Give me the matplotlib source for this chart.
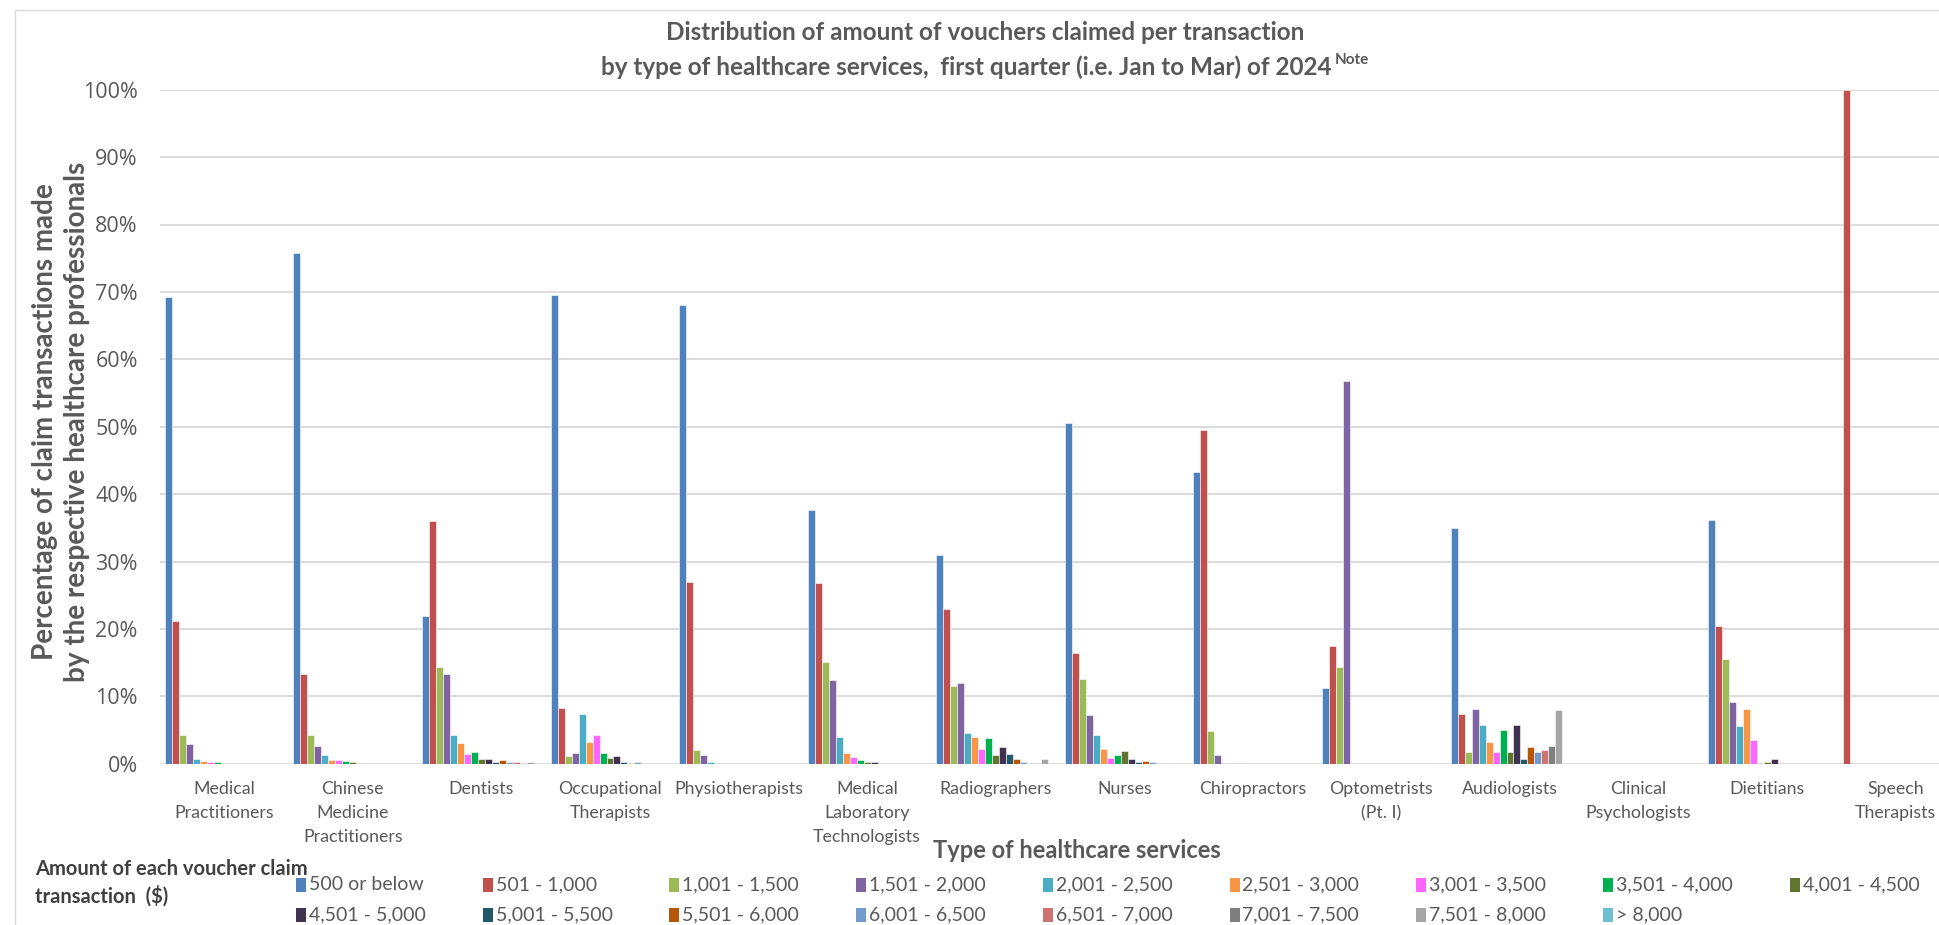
import matplotlib
matplotlib.use("Agg")
import matplotlib.pyplot as plt
from matplotlib.patches import Rectangle
from matplotlib.ticker import PercentFormatter
import numpy as np

# ---------------------------------------------------------------- data
services = [
    "Medical\nPractitioners", "Chinese\nMedicine\nPractitioners", "Dentists",
    "Occupational\nTherapists", "Physiotherapists",
    "Medical\nLaboratory\nTechnologists", "Radiographers", "Nurses",
    "Chiropractors", "Optometrists\n(Pt. I)", "Audiologists",
    "Clinical\nPsychologists", "Dietitians", "Speech\nTherapists",
]

amount_bands = [
    "500 or below", "501 - 1,000", "1,001 - 1,500", "1,501 - 2,000",
    "2,001 - 2,500", "2,501 - 3,000", "3,001 - 3,500", "3,501 - 4,000",
    "4,001 - 4,500", "4,501 - 5,000", "5,001 - 5,500", "5,501 - 6,000",
    "6,001 - 6,500", "6,501 - 7,000", "7,001 - 7,500", "7,501 - 8,000",
    "> 8,000",
]

# percentage of claim transactions, one list per service (order of amount_bands)
medical_practitioners = [69.2, 21.2, 4.3, 2.9, 0.7, 0.4, 0.2, 0.2, 0, 0, 0, 0, 0, 0, 0, 0, 0]
chinese_medicine      = [75.8, 13.3, 4.2, 2.6, 1.3, 0.6, 0.5, 0.45, 0.2, 0, 0, 0, 0, 0, 0, 0, 0]
dentists              = [21.9, 36.0, 14.3, 13.3, 4.3, 3.0, 1.5, 1.7, 0.7, 0.7, 0.3, 0.5, 0.2, 0.2, 0, 0.2, 0]
occupational          = [69.6, 8.3, 1.1, 1.6, 7.3, 3.2, 4.2, 1.6, 0.85, 1.2, 0.2, 0, 0.2, 0, 0, 0, 0]
physiotherapists      = [68.0, 27.0, 2.1, 1.25, 0.3, 0, 0, 0, 0, 0, 0, 0, 0, 0, 0, 0, 0]
lab_technologists     = [37.6, 26.8, 15.1, 12.4, 4.0, 1.6, 0.95, 0.5, 0.2, 0.25, 0, 0, 0, 0, 0, 0, 0]
radiographers         = [31.0, 22.9, 11.6, 11.9, 4.5, 3.9, 2.2, 3.8, 1.3, 2.5, 1.4, 0.7, 0.2, 0.15, 0.15, 0.65, 0]
nurses                = [50.5, 16.4, 12.6, 7.2, 4.2, 2.2, 0.85, 1.3, 1.85, 0.7, 0.2, 0.4, 0.2, 0, 0, 0.15, 0]
chiropractors         = [43.3, 49.5, 4.85, 1.3, 0, 0, 0.1, 0, 0, 0, 0, 0, 0, 0, 0, 0, 0]
optometrists          = [11.3, 17.4, 14.3, 56.8, 0, 0, 0, 0, 0, 0, 0, 0, 0, 0, 0, 0, 0]
audiologists          = [35.0, 7.4, 1.8, 8.1, 5.8, 3.2, 1.8, 5.0, 1.8, 5.8, 0.65, 2.5, 1.8, 2.0, 2.7, 7.9, 0]
clinical_psychologists = [0] * 17
dietitians            = [36.1, 20.5, 15.5, 9.15, 5.6, 8.1, 3.5, 0, 0.2, 0.65, 0, 0, 0, 0, 0, 0, 0]
speech_therapists     = [0, 100.0, 0, 0, 0, 0, 0, 0, 0, 0, 0, 0, 0, 0, 0, 0, 0]

band_colors = [
    "#4F81BD", "#C0504D", "#9BBB59", "#8064A2", "#4BACC6", "#F79646",
    "#FF66FF", "#00B050", "#5F7530", "#403152", "#215968", "#B65708",
    "#729ACA", "#CD7371", "#7F7F7F", "#A5A5A5", "#6FBFD2",
]

table = np.array([
    medical_practitioners, chinese_medicine, dentists, occupational,
    physiotherapists, lab_technologists, radiographers, nurses,
    chiropractors, optometrists, audiologists, clinical_psychologists,
    dietitians, speech_therapists,
]) / 100.0

# ---------------------------------------------------------------- styling
TEXT = "#595959"
GRID = "#D9D9D9"
W, H = 1939, 925
LABEL_FONT = ["Lato", "DejaVu Sans"]
TICK_FONT = ["Open Sans", "DejaVu Sans"]

fig = plt.figure(figsize=(W / 100, H / 100), dpi=100)
fig.patch.set_facecolor("white")

# chart-area border
fig.patches.append(Rectangle((15 / W, -0.05), 1.2, 1 - 10 / H + 0.05,
                             transform=fig.transFigure, fill=False,
                             edgecolor=GRID, linewidth=1.0))

ax = fig.add_axes([160 / W, 1 - 763.7 / H, 1800 / W, (763.7 - 89.7) / H])
ax.set_facecolor("none")

n_bands = len(amount_bands)
x = np.arange(len(services))
bar_w = 7.0 / 128.6
for j in range(n_bands):
    ax.bar(x + (j - (n_bands - 1) / 2) * bar_w, table[:, j], width=bar_w,
           color=band_colors[j], edgecolor="white", linewidth=0.4,
           label=amount_bands[j], zorder=3)

ax.set_xlim(-0.5, len(services) - 0.5)
ax.set_ylim(0, 1.0)
ax.set_yticks(np.arange(0, 1.01, 0.1))
ax.yaxis.set_major_formatter(PercentFormatter(1.0, decimals=0))
ax.yaxis.grid(True, color=GRID, linewidth=1.3, zorder=0)
ax.set_axisbelow(True)
for s in ax.spines.values():
    s.set_visible(False)

ax.set_xticks(x)
ax.set_xticklabels(services, fontfamily=LABEL_FONT, fontsize=12.8,
                   color=TEXT, linespacing=1.62)
ax.tick_params(axis="x", length=0, pad=12.5)
ax.tick_params(axis="y", length=0, pad=16, labelsize=15.5, labelcolor=TEXT)
for t in ax.get_yticklabels():
    t.set_fontfamily(TICK_FONT)

# titles and axis captions
fig.text(985 / W, 1 - 33 / H,
         "Distribution of amount of vouchers claimed per transaction",
         ha="center", va="center", fontsize=17.5, fontweight="bold",
         color=TEXT, fontfamily=LABEL_FONT)
line2 = fig.text(0, 1 - 67 / H,
                 "by type of healthcare services,  first quarter (i.e. Jan to Mar) of 2024",
                 ha="left", va="center", fontsize=17.5, fontweight="bold",
                 color=TEXT, fontfamily=LABEL_FONT)
note = fig.text(0, 1 - 60 / H, "Note", ha="left", va="center", fontsize=11,
                fontweight="bold", color=TEXT, fontfamily=LABEL_FONT)

fig.text(61 / W, 1 - 422 / H,
         "Percentage of claim transactions made\nby the respective healthcare professionals",
         ha="center", va="center", rotation=90, fontsize=20, fontweight="bold",
         color=TEXT, fontfamily=LABEL_FONT, linespacing=1.3)

fig.text(1077 / W, 1 - 850 / H, "Type of healthcare services",
         ha="center", va="center", fontsize=17, fontweight="bold",
         color=TEXT, fontfamily=LABEL_FONT)

# legend laid out in rows of nine
fig.text(35 / W, 1 - 883 / H, "Amount of each voucher claim\ntransaction  ($)",
         ha="left", va="center", fontsize=14.5, fontweight="bold", color="#404040",
         fontfamily=LABEL_FONT, linespacing=1.38)

sq_w, sq_h = 10, 14
for j, (band, col) in enumerate(zip(amount_bands, band_colors)):
    row, c = divmod(j, 9)
    lx = 296 + 186.7 * c
    ly = 885 + 30 * row
    fig.patches.append(Rectangle((lx / W, 1 - (ly + sq_h / 2) / H),
                                 sq_w / W, sq_h / H, transform=fig.transFigure,
                                 facecolor=col, edgecolor="none"))
    fig.text((lx + sq_w + 3) / W, 1 - ly / H, band, ha="left", va="center",
             fontsize=14, color=TEXT, fontfamily=LABEL_FONT)

# centre the second title line together with its superscript
fig.canvas.draw()
r = fig.canvas.get_renderer()
w2 = line2.get_window_extent(r).width
wn = note.get_window_extent(r).width
start = 985 - (w2 + 4 + wn) / 2
line2.set_x(start / W)
note.set_x((start + w2 + 4) / W)

fig.savefig("out.png", dpi=100, facecolor="white")
